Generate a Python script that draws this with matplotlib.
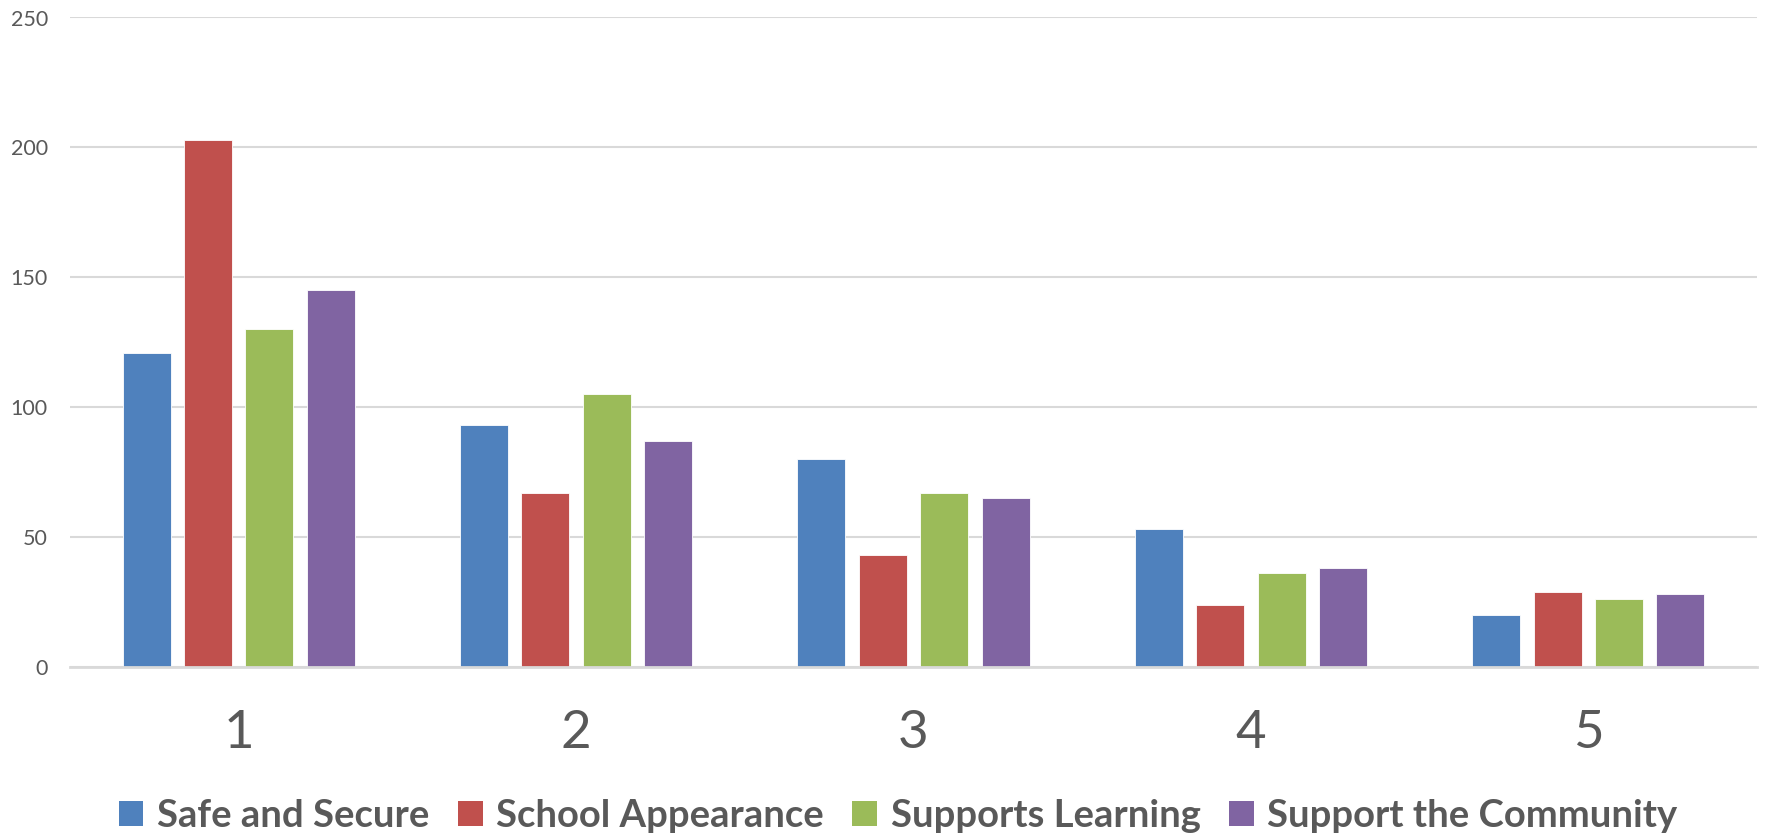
import matplotlib
matplotlib.use("Agg")
import matplotlib.pyplot as plt
import numpy as np
from matplotlib.patches import Patch

categories = ["1", "2", "3", "4", "5"]
series_names = ["Safe and Secure", "School Appearance", "Supports Learning", "Support the Community"]
safe_and_secure = [121, 93, 80, 53, 20]
school_appearance = [203, 67, 43, 24, 29]
supports_learning = [130, 105, 67, 36, 26]
support_community = [145, 87, 65, 38, 28]
y_ticks = [0, 50, 100, 150, 200, 250]

colors = ["#4F81BD", "#C0504D", "#9BBB59", "#8064A2"]
series = [safe_and_secure, school_appearance, supports_learning, support_community]

fig = plt.figure(figsize=(17.67, 8.38), dpi=100)
ax = fig.add_axes([70/1767, 1-667/838, (1757-70)/1767, (667-17.5)/838])

x = np.arange(len(categories))
width = 0.142
step = 0.182
for i, (vals, c, name) in enumerate(zip(series, colors, series_names)):
    ax.bar(x + (i - 1.5) * step, vals, width=width, color=c, edgecolor="white",
           linewidth=0.6, label=name, zorder=3)

ax.set_xlim(-0.5, len(categories) - 0.5)
ax.set_ylim(0, 250)
ax.set_yticks(y_ticks)
ax.set_yticklabels([str(v) for v in y_ticks])
ax.set_xticks(x)
ax.set_xticklabels(categories)
ax.grid(axis="y", color="#D9D9D9", linewidth=1.5, zorder=0)
for s in ["top", "right", "left"]:
    ax.spines[s].set_visible(False)
ax.spines["bottom"].set_color("#D9D9D9")
ax.spines["bottom"].set_linewidth(2)
ax.spines["bottom"].set_zorder(4)
ax.tick_params(axis="y", length=0, pad=16, labelsize=15.5, labelcolor="#595959")
ax.tick_params(axis="x", length=0, pad=31, labelsize=38, labelcolor="#595959")
for lab in ax.get_yticklabels():
    lab.set_family("Lato")
for lab in ax.get_xticklabels():
    lab.set_family("Lato")

handles = [Patch(facecolor=c, edgecolor="none") for c in colors]
leg = fig.legend(handles, series_names, loc="center", bbox_to_anchor=(898/1767, 1-816/838),
                 ncol=4, frameon=False, handlelength=0.65, handleheight=0.65,
                 handletextpad=0.35, columnspacing=0.75,
                 prop={"family": "Lato", "weight": "bold", "size": 27.5})
for t in leg.get_texts():
    t.set_color("#595959")

fig.savefig("out.png", dpi=100)
